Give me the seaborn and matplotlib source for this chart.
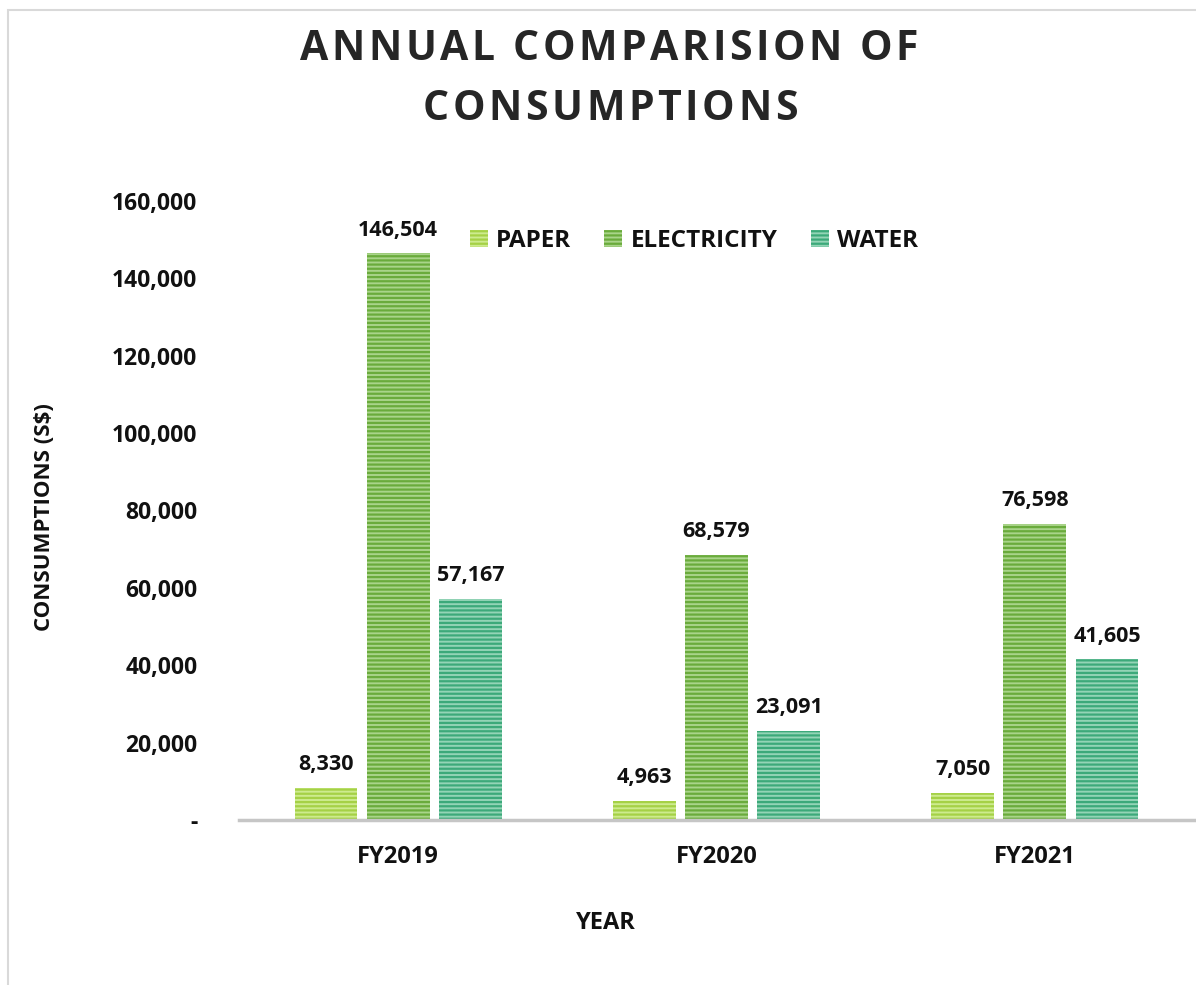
import matplotlib
matplotlib.use("Agg")
import matplotlib.pyplot as plt
import matplotlib.patches as mpatches
from matplotlib.font_manager import FontProperties
import seaborn as sns
import pandas as pd

years = ["FY2019", "FY2020", "FY2021"]
series = ["PAPER", "ELECTRICITY", "WATER"]
paper = [8330, 4963, 7050]
electricity = [146504, 68579, 76598]
water = [57167, 23091, 41605]
yticks = [0, 20000, 40000, 60000, 80000, 100000, 120000, 140000, 160000]
title_lines = ["ANNUAL COMPARISION OF", "CONSUMPTIONS"]

face_colors = {"PAPER": "#cdeb8e", "ELECTRICITY": "#a9d48a", "WATER": "#93d4b6"}
hatch_colors = {"PAPER": "#a5d146", "ELECTRICITY": "#6aab3c", "WATER": "#3ca97a"}
TXT = "#111111"

rows = []
for name, vals in zip(series, [paper, electricity, water]):
    for y, v in zip(years, vals):
        rows.append({"year": y, "type": name, "value": v})
df = pd.DataFrame(rows)

sns.set_theme(style="white")
plt.rcParams["font.family"] = ["Open Sans", "DejaVu Sans"]
plt.rcParams["hatch.linewidth"] = 1.6

W, H = 1196, 985
fig = plt.figure(figsize=(W / 100, H / 100), dpi=100)
ax = fig.add_axes([239 / W, 1 - 820 / H, (1194 - 239) / W, (820 - 201) / H])

sns.barplot(data=df, x="year", y="value", hue="type", hue_order=series,
            order=years, palette=face_colors, width=0.68, gap=0.13,
            legend=False, ax=ax, saturation=1)

for cont, name in zip(ax.containers, series):
    for p in cont.patches:
        p.set_facecolor(face_colors[name])
        p.set_edgecolor(hatch_colors[name])
        p.set_linewidth(0)
        p.set_hatch("----")
    ax.bar_label(cont, labels=[f"{v:,.0f}" for v in cont.datavalues],
                 padding=9, fontsize=15.5, fontweight="bold", color=TXT)

ax.set_ylim(0, 160000)
ax.set_xlim(-0.5, 2.5)
ax.set_yticks(yticks)
ax.set_yticklabels(["-" if t == 0 else f"{t:,}" for t in yticks])
ax.tick_params(axis="y", length=0, pad=30, labelsize=16.5)
ax.tick_params(axis="x", length=0, pad=18, labelsize=17)
for lab in ax.get_xticklabels() + ax.get_yticklabels():
    lab.set_fontweight("bold")
    lab.set_color(TXT)

for s in ["top", "right", "left"]:
    ax.spines[s].set_visible(False)
ax.spines["bottom"].set_color("#c6c6c6")
ax.spines["bottom"].set_linewidth(2.5)

ax.set_xlabel("")
ax.set_ylabel("")
fig.text(606 / W, 1 - 923 / H, "YEAR", ha="center", va="center",
         fontsize=17, fontweight="bold", color=TXT)
fig.text(45 / W, 1 - 517 / H, "CONSUMPTIONS (S$)", rotation=90, ha="center",
         va="center", fontsize=16, fontweight="bold", color=TXT)

handles = [mpatches.Rectangle((0, 0), 1, 1, facecolor=face_colors[n],
                              edgecolor=hatch_colors[n], linewidth=0, hatch="----")
           for n in series]
leg = fig.legend(handles, series, loc="center", bbox_to_anchor=(694 / W, 1 - 241 / H),
                 ncol=3, frameon=False, fontsize=17.5, handlelength=0.75, handleheight=0.75,
                 handletextpad=0.35, columnspacing=1.35)
for t in leg.get_texts():
    t.set_fontweight("bold")
    t.set_color(TXT)

# Letter-spaced title
renderer = fig.canvas.get_renderer()
tprop = FontProperties(family=["Open Sans", "DejaVu Sans"], weight="bold", size=29.5)


def text_w(s):
    w, _, _ = renderer.get_text_width_height_descent(s, tprop, ismath=False)
    return w


ref_w = text_w("H")


def advance(c):
    return text_w(c + "H") - ref_w


line1_natural = sum(advance(c) for c in title_lines[0][:-1]) + text_w(title_lines[0][-1])
spacing = (618 - line1_natural) / (len(title_lines[0]) - 1)

for line, base_y, cx in zip(title_lines, [60, 120], [609, 610]):
    advs = [advance(c) for c in line]
    total = sum(advs[:-1]) + text_w(line[-1]) + spacing * (len(line) - 1)
    x = cx - total / 2
    for c, a in zip(line, advs):
        if c != " ":
            fig.text(x / W, 1 - base_y / H, c, ha="left", va="baseline",
                     fontproperties=tprop, color="#262626")
        x += a + spacing

border = mpatches.Rectangle((8 / W, -0.05), 1.2, 1 - 10 / H + 0.05,
                            transform=fig.transFigure, fill=False,
                            edgecolor="#d9d9d9", linewidth=1.5)
fig.patches.append(border)

fig.savefig("out.png", dpi=100)
